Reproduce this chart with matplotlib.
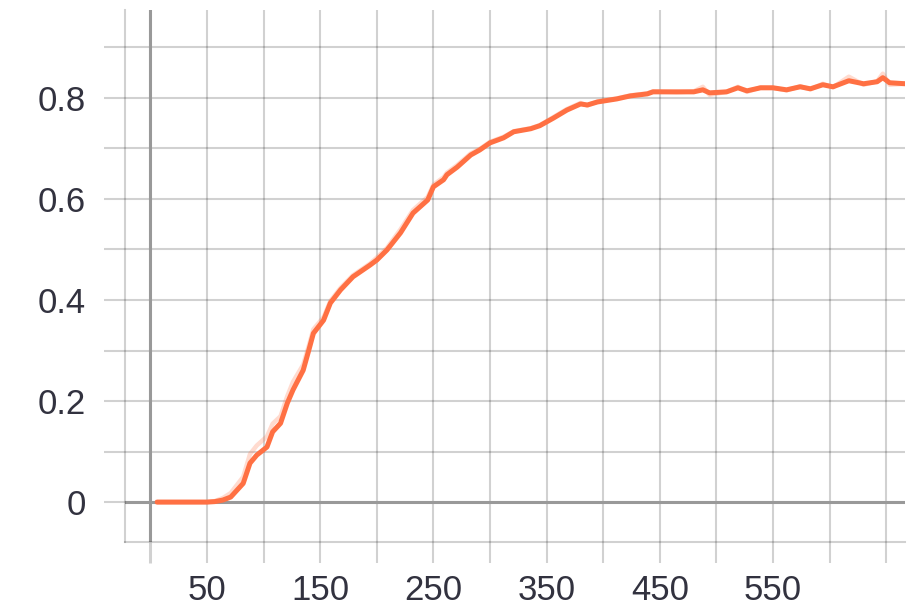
import numpy as np
import matplotlib.pyplot as plt

# step values and smoothed metric
steps = [6, 20, 35, 50, 57, 64, 71, 82, 88, 94, 103, 108, 115, 121, 126, 135, 140,
         144, 153, 159, 168, 179, 194, 200, 209, 221, 232, 245, 250, 259, 262, 271,
         283, 291, 300, 312, 321, 336, 344, 356, 368, 380, 386, 395, 412, 424, 439,
         444, 465, 480, 488, 494, 509, 519, 527, 539, 550, 562, 574, 583, 594, 603,
         617, 630, 642, 647, 653, 667]
smoothed = [0.0, 0.0, 0.0, 0.0, 0.001, 0.004, 0.01, 0.037, 0.077, 0.093, 0.109, 0.139,
            0.156, 0.196, 0.222, 0.261, 0.301, 0.334, 0.36, 0.394, 0.42, 0.446, 0.469,
            0.479, 0.499, 0.533, 0.572, 0.598, 0.624, 0.638, 0.648, 0.663, 0.687, 0.697,
            0.711, 0.721, 0.733, 0.739, 0.745, 0.76, 0.776, 0.788, 0.786, 0.792, 0.798,
            0.804, 0.808, 0.812, 0.812, 0.812, 0.816, 0.81, 0.812, 0.82, 0.814, 0.82,
            0.82, 0.816, 0.822, 0.818, 0.826, 0.822, 0.834, 0.828, 0.832, 0.84, 0.83,
            0.828]
# faint raw values behind the smoothed line
raw = [0.0, 0.0, 0.0, 0.0, 0.002, 0.008, 0.018, 0.05, 0.095, 0.112, 0.13, 0.155,
       0.17, 0.21, 0.238, 0.272, 0.31, 0.342, 0.366, 0.398, 0.424, 0.449, 0.472,
       0.484, 0.503, 0.54, 0.578, 0.604, 0.628, 0.643, 0.652, 0.667, 0.69, 0.699,
       0.713, 0.723, 0.734, 0.74, 0.746, 0.762, 0.778, 0.79, 0.785, 0.793, 0.799,
       0.805, 0.809, 0.813, 0.811, 0.813, 0.822, 0.806, 0.812, 0.822, 0.812, 0.821,
       0.82, 0.815, 0.823, 0.817, 0.828, 0.821, 0.842, 0.826, 0.833, 0.848, 0.826,
       0.828]

x_grid = np.arange(0, 651, 50)
y_grid = np.arange(0, 0.91, 0.1)
x_labels = {50: '50', 150: '150', 250: '250', 350: '350', 450: '450', 550: '550'}
y_labels = {0: '0', 2: '0.2', 4: '0.4', 6: '0.6', 8: '0.8'}

grid_col = (0, 0, 0, 0.18)
zero_col = '#999999'
text_col = '#32323f'
line_col = '#ff7043'

plt.rcParams['font.family'] = ['Liberation Sans', 'DejaVu Sans']

fig = plt.figure(figsize=(9.11, 6.11), dpi=100)
ax = fig.add_axes([125 / 911, 1 - 542 / 611, 780 / 911, 532 / 611])
ax.set_xlim(-22.4, 666.6)
ax.set_ylim(-0.079, 0.974)

ax.set_xticks(x_grid)
ax.set_xticklabels([x_labels.get(int(v), '') for v in x_grid])
ax.set_yticks(y_grid)
ax.set_yticklabels([y_labels.get(i, '') for i in range(len(y_grid))])
ax.grid(True, color='black', alpha=0.18, linewidth=1.5, zorder=0)
ax.tick_params(axis='both', color=grid_col, width=1.5, length=15,
               labelsize=25, labelcolor=text_col)
ax.tick_params(axis='x', pad=8)
ax.tick_params(axis='y', pad=13)
# the tick under x=0 continues the darker zero line
ax.xaxis.get_major_ticks()[0].tick1line.set_color(zero_col)
ax.xaxis.get_major_ticks()[0].tick1line.set_markeredgewidth(2.2)

for s in ['top', 'right']:
    ax.spines[s].set_visible(False)
for s in ['left', 'bottom']:
    ax.spines[s].set_color(grid_col)
    ax.spines[s].set_linewidth(1.5)

ax.axhline(0, color=zero_col, linewidth=2.2, zorder=1.8)
ax.axvline(0, color=zero_col, linewidth=2.2, zorder=1.8)

ax.plot(steps, raw, color=line_col, linewidth=3.2, alpha=0.25, zorder=2,
        solid_joinstyle='round')
ax.plot(steps, smoothed, color=line_col, linewidth=3.6, zorder=3,
        solid_joinstyle='round', solid_capstyle='round')

fig.savefig('out.png', dpi=100)
